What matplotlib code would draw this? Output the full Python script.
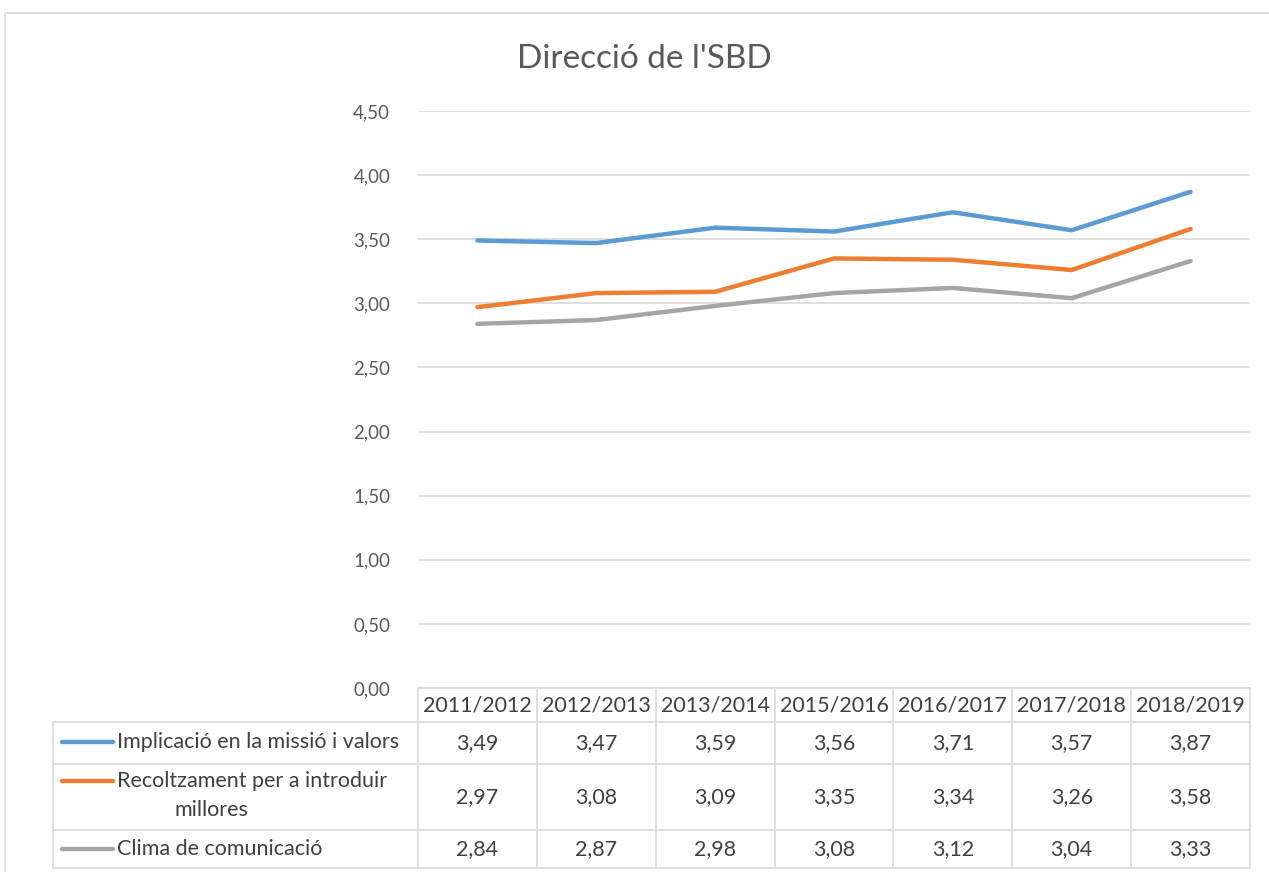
import matplotlib
matplotlib.use("Agg")
import matplotlib.pyplot as plt
from matplotlib import transforms
from matplotlib.lines import Line2D
from matplotlib.patches import Rectangle

plt.rcParams['font.family'] = ['Lato', 'DejaVu Sans']

title = "Direcció de l'SBD"
years = ["2011/2012", "2012/2013", "2013/2014", "2015/2016", "2016/2017", "2017/2018", "2018/2019"]
series_names = ["Implicació en la missió i valors",
                "Recoltzament per a introduir millores",
                "Clima de comunicació"]
implicacio = [3.49, 3.47, 3.59, 3.56, 3.71, 3.57, 3.87]
recoltzament = [2.97, 3.08, 3.09, 3.35, 3.34, 3.26, 3.58]
clima = [2.84, 2.87, 2.98, 3.08, 3.12, 3.04, 3.33]
series = [implicacio, recoltzament, clima]
colors = ["#5b9bd5", "#ed7d31", "#a5a5a5"]
yticks = [0, 0.5, 1.0, 1.5, 2.0, 2.5, 3.0, 3.5, 4.0, 4.5]

W, H = 1269, 872
fig = plt.figure(figsize=(W / 100, H / 100), dpi=100)
pix = transforms.Affine2D().scale(1 / W, -1 / H).translate(0, 1) + fig.transFigure

# outer chart frame
fig.patches.append(Rectangle((5, 13), 1400, 1000, transform=pix, fill=False,
                             edgecolor="#d9d9d9", linewidth=1.2))

L, R, T, B = 418, 1250, 111, 688
ax = fig.add_axes([L / W, 1 - B / H, (R - L) / W, (B - T) / H])
x = list(range(len(years)))
for s, c in zip(series, colors):
    ax.plot(x, s, color=c, linewidth=3.2, solid_capstyle='round', zorder=3)
ax.set_xlim(-0.5, len(years) - 0.5)
ax.set_ylim(0, 4.5)
ax.set_yticks(yticks)
ax.set_yticklabels([f"{v:.2f}".replace('.', ',') for v in yticks], color="#595959", fontsize=13.5)
ax.tick_params(axis='y', length=0, pad=20)
ax.set_xticks([])
for sp in ax.spines.values():
    sp.set_visible(False)
ax.grid(axis='y', color="#d9d9d9", linewidth=1.2)
ax.set_axisbelow(True)

fig.text(644 / W, 1 - 59 / H, title, ha='center', va='center', fontsize=24, color="#595959")

# data table
bt = transforms.blended_transform_factory(ax.transData, pix)
gc = "#d9d9d9"
rows_y = [688, 722, 764, 830, 868]
tl = 53
fig.add_artist(Line2D([L, R], [688, 688], transform=pix, color=gc, lw=1.2))
for yy in rows_y[1:]:
    fig.add_artist(Line2D([tl, R], [yy, yy], transform=pix, color=gc, lw=1.2))
fig.add_artist(Line2D([tl, tl], [722, 868], transform=pix, color=gc, lw=1.2))
for i in range(len(years) + 1):
    fig.add_artist(Line2D([i - 0.5, i - 0.5], [688, 868], transform=bt, color=gc, lw=1.2))

tc = "#404040"
fs = 15.5
for i, yr in enumerate(years):
    fig.text(i, 705, yr, transform=bt, ha='center', va='center', fontsize=fs, color=tc)

row_centers = [743, 797, 849]
for r, s in enumerate(series):
    for i, v in enumerate(s):
        fig.text(i, row_centers[r], f"{v:.2f}".replace('.', ','), transform=bt,
                 ha='center', va='center', fontsize=fs, color=tc)

label_lines = [(742, series_names[0]), (781, "Recoltzament per a introduir"), (849, series_names[2])]
for (yy, txt), c in zip(label_lines, colors):
    fig.add_artist(Line2D([62, 113], [yy, yy], transform=pix, color=c, lw=3.2, solid_capstyle='round'))
    fig.text(117 / W, 1 - yy / H, txt, ha='left', va='center', fontsize=fs, color=tc)
fig.text(211 / W, 1 - 810 / H, "millores", ha='center', va='center', fontsize=fs, color=tc)

fig.savefig("out.png", dpi=100)
